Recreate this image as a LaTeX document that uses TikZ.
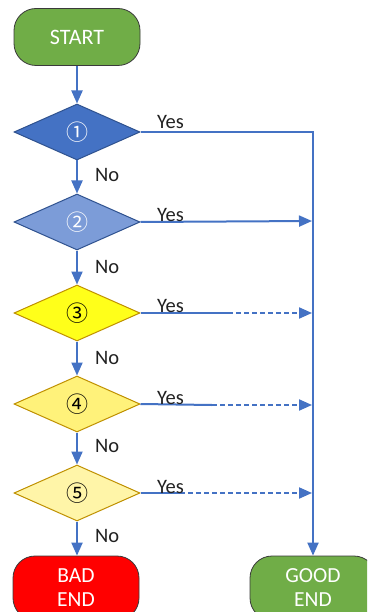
\documentclass[tikz,border=0pt]{standalone}
\usepackage{fontspec}
\setmainfont{Carlito}
\newfontfamily\circfont{Noto Sans CJK JP}
\usetikzlibrary{shapes.geometric,arrows.meta}

\definecolor{flowblue}{HTML}{4472C4}
\definecolor{darkblue}{HTML}{2F528F}
\definecolor{midblue}{HTML}{7C9CD8}
\definecolor{okgreen}{HTML}{70AD47}
\definecolor{edgegrey}{HTML}{3A3A3A}
\definecolor{gold}{HTML}{BF9000}
\definecolor{yellowA}{HTML}{FFFF1A}
\definecolor{yellowB}{HTML}{FFF27A}
\definecolor{yellowC}{HTML}{FFF5A8}
\definecolor{labelgrey}{HTML}{222222}

\tikzset{
  terminal/.style={rectangle, rounded corners=22pt, minimum width=126pt,
    draw=edgegrey, line width=0.8pt, text=white, align=center,
    font=\fontsize{21.5}{24}\selectfont, inner sep=0pt},
  decision/.style={diamond, minimum width=126pt, minimum height=56pt,
    inner sep=0pt, line width=1pt, font=\circfont\fontsize{22}{24}\selectfont},
  flow/.style={draw=flowblue, line width=2pt,
    -{Triangle[length=13pt,width=11pt]}},
  plainflow/.style={draw=flowblue, line width=2pt},
  dashflow/.style={draw=flowblue, line width=2pt, dash pattern=on 5pt off 3pt},
  lbl/.style={anchor=base west, inner sep=0pt, text=labelgrey,
    font=\fontsize{20.5}{24}\selectfont}
}

\begin{document}
\begin{tikzpicture}[x=1pt, y=-1pt]
  \clip (0,0) rectangle (367,612);
  \fill[white] (0,0) rectangle (367,612);

  % start and end terminals
  \node[terminal, fill=okgreen, minimum height=57pt, font=\fontsize{22}{24}\selectfont] (start) at (77,37) {START};
  \node[terminal, fill=red, minimum height=64pt] (bad) at (76,588) {BAD\\END};
  \node[terminal, fill=okgreen, minimum height=64pt] (good) at (313,588) {GOOD\\END};

  % decisions
  \node[decision, fill=flowblue, draw=darkblue, text=white] (d1) at (77,132) {①};
  \node[decision, fill=midblue, draw=darkblue, text=white] (d2) at (77,222) {②};
  \node[decision, fill=yellowA, draw=gold, text=black] (d3) at (77,313) {③};
  \node[decision, fill=yellowB, draw=gold, text=black] (d4) at (77,404) {④};
  \node[decision, fill=yellowC, draw=gold, text=black] (d5) at (77,493) {⑤};

  % main "No" chain
  \draw[flow] (start) -- (d1);
  \draw[flow] (d1) -- (d2);
  \draw[flow] (d2) -- (d3);
  \draw[flow] (d3) -- (d4);
  \draw[flow] (d4) -- (d5);
  \draw[flow] (d5.south) -- (bad.north -| d5.south);

  % collector line to the good end
  \coordinate (corner) at (313,132);
  \draw[flow] (d1.east) -- (corner) -- (good.north -| corner);

  % "Yes" branches joining the collector
  \coordinate (j2) at (312,221);
  \coordinate (j3) at (312,313);
  \coordinate (j4) at (312,405);
  \coordinate (j5) at (312,493);
  \coordinate (s3) at (228,313);
  \coordinate (s4) at (212,405);
  \coordinate (s5) at (180,493);

  \draw[flow] (d2.east) -- (j2);
  \draw[plainflow] (d3.east) -- (s3);
  \draw[dashflow, -{Triangle[length=13pt,width=11pt]}] (s3) -- (j3);
  \draw[plainflow] (d4.east) -- (s4);
  \draw[dashflow, -{Triangle[length=13pt,width=11pt]}] (s4) -- (j4);
  \draw[plainflow] (d5.east) -- (s5);
  \draw[dashflow, -{Triangle[length=13pt,width=11pt]}] (s5) -- (j5);

  % labels
  \node[lbl] (y1) at (157,129) {Yes};
  \node[lbl] (y2) at (157,222) {Yes};
  \node[lbl] (y3) at (157,312) {Yes};
  \node[lbl] (y4) at (157,404) {Yes};
  \node[lbl] (y5) at (157,493) {Yes};
  \node[lbl] (n1) at (95,182) {No};
  \node[lbl] (n2) at (95,273) {No};
  \node[lbl] (n3) at (95,364) {No};
  \node[lbl] (n4) at (95,452) {No};
  \node[lbl] (n5) at (95,542) {No};
\end{tikzpicture}
\end{document}
